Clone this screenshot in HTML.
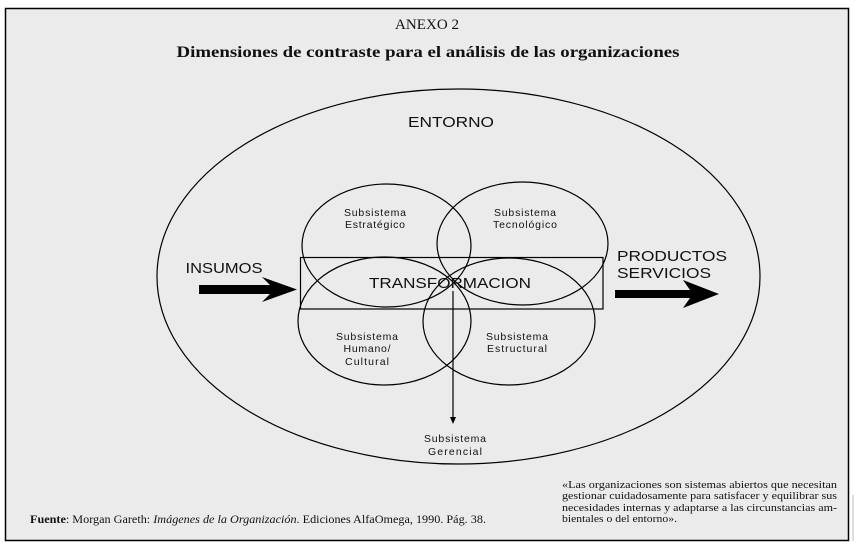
<!DOCTYPE html>
<html><head><meta charset="utf-8"><style>
html,body{margin:0;padding:0;background:#fff;}
svg{display:block;}
</style></head><body>
<svg width="859" height="554" viewBox="0 0 859 554" xmlns="http://www.w3.org/2000/svg">
<rect x="5.5" y="8.5" width="843" height="532" fill="#ebebeb" stroke="#000" stroke-width="1.5"/>
<line x1="853" y1="495" x2="853" y2="541" stroke="#bbb" stroke-width="1"/>
<g font-family="Liberation Serif, serif" fill="#111">
<text x="427" y="29" font-size="15" text-anchor="middle" textLength="64" lengthAdjust="spacingAndGlyphs">ANEXO 2</text>
<text x="428" y="57" font-size="16" font-weight="bold" text-anchor="middle" textLength="503" lengthAdjust="spacingAndGlyphs">Dimensiones de contraste para el análisis de las organizaciones</text>
<text x="30" y="523" font-size="11.5" textLength="456" lengthAdjust="spacingAndGlyphs"><tspan font-weight="bold">Fuente</tspan>: Morgan Gareth: <tspan font-style="italic">Imágenes de la Organización</tspan>. Ediciones AlfaOmega, 1990. Pág. 38.</text>
<g font-size="11">
<text x="562" y="488" textLength="275" lengthAdjust="spacingAndGlyphs">«Las organizaciones son sistemas abiertos que necesitan</text>
<text x="562" y="499" textLength="275" lengthAdjust="spacingAndGlyphs">gestionar cuidadosamente para satisfacer y equilibrar sus</text>
<text x="562" y="511" textLength="275" lengthAdjust="spacingAndGlyphs">necesidades internas y adaptarse a las circunstancias am-</text>
<text x="562" y="522" textLength="115" lengthAdjust="spacingAndGlyphs">bientales o del entorno».</text>
</g>
</g>
<g fill="none" stroke="#000" stroke-width="1.2">
<ellipse cx="458.5" cy="276.5" rx="301.5" ry="187.5"/>
<ellipse cx="386.5" cy="245.5" rx="84.5" ry="61.5"/>
<ellipse cx="522.5" cy="243.5" rx="85.5" ry="61.5"/>
<ellipse cx="384.5" cy="321" rx="86.5" ry="64"/>
<ellipse cx="509" cy="321.5" rx="86" ry="63.5"/>
<rect x="300.5" y="257.5" width="302.5" height="51.5"/>
<line x1="453" y1="291" x2="453" y2="419"/>
</g>
<polygon points="450,417 456,417 453,424" fill="#000"/>
<polygon points="199,285 270,285 262,277 297,289.5 262,302 270,294 199,294" fill="#000"/>
<polygon points="615,290 690,290 683,280 719,294 683,308 690,298 615,298" fill="#000"/>
<g font-family="Liberation Sans, sans-serif" fill="#111" text-anchor="middle">
<text x="451" y="127" font-size="14.5" textLength="86" lengthAdjust="spacingAndGlyphs">ENTORNO</text>
<text x="224" y="273" font-size="15" textLength="77" lengthAdjust="spacingAndGlyphs">INSUMOS</text>
<text x="617" y="261" font-size="15" text-anchor="start" textLength="110" lengthAdjust="spacingAndGlyphs">PRODUCTOS</text>
<text x="617" y="278" font-size="15" text-anchor="start" textLength="94" lengthAdjust="spacingAndGlyphs">SERVICIOS</text>
<text x="450" y="288" font-size="14.5" textLength="162" lengthAdjust="spacingAndGlyphs">TRANSFORMACION</text>
<g font-size="10.5" lengthAdjust="spacingAndGlyphs">
<text x="375" y="216" textLength="62">Subsistema</text>
<text x="375" y="228" textLength="60">Estratégico</text>
<text x="525" y="216" textLength="62">Subsistema</text>
<text x="525" y="228" textLength="64">Tecnológico</text>
<text x="367" y="340" textLength="62">Subsistema</text>
<text x="367" y="352" textLength="47">Humano/</text>
<text x="367" y="365" textLength="44">Cultural</text>
<text x="517" y="340" textLength="62">Subsistema</text>
<text x="517" y="352" textLength="60">Estructural</text>
<text x="455" y="442" textLength="62">Subsistema</text>
<text x="455" y="455" textLength="54">Gerencial</text>
</g>
</g>
</svg>
</body></html>
